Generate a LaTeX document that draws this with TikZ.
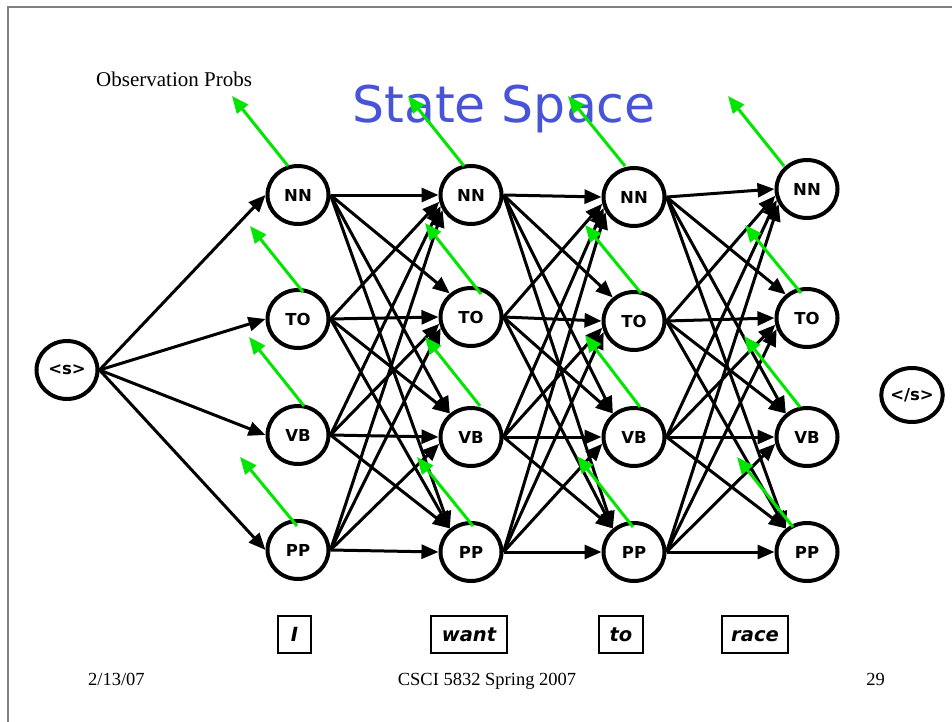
\documentclass[tikz,border=0pt]{standalone}
\usepackage{fontspec}
\setmainfont{Liberation Serif}
\newfontfamily\dvs{DejaVu Sans}[BoldFont={DejaVu Sans Bold},ItalicFont={DejaVu Sans Oblique},BoldItalicFont={DejaVu Sans Bold Oblique}]
\usetikzlibrary{shapes.geometric,arrows.meta}
\definecolor{titleblue}{RGB}{72,84,216}
\definecolor{obsgreen}{RGB}{0,230,0}
\begin{document}
\begin{tikzpicture}[x=1pt,y=-1pt,
  state/.style={ellipse,draw=black,fill=white,line width=4pt,minimum width=61pt,minimum height=58pt,inner sep=0pt,
     font=\dvs\bfseries\fontsize{16.5}{19}\selectfont},
  edge/.style={line width=3pt,-{Triangle[length=17pt,width=14pt]}},
  obs/.style={obsgreen,line width=3pt,-{Triangle[length=17pt,width=14pt]}},
  word/.style={draw=black,line width=1.3pt,minimum height=37pt,inner sep=0pt,text height=14pt,text depth=0pt,
     font=\dvs\bfseries\itshape\fontsize{19.5}{21}\selectfont},
  foot/.style={inner sep=0pt,font=\fontsize{18.5}{20}\selectfont}]
\useasboundingbox (0,0) rectangle (952,722);
\fill[white] (0,0) rectangle (952,722);
\draw[gray,line width=2pt] (8,722) -- (8,7) -- (952,7);

% title
\node[anchor=base west,inner sep=0pt,text=titleblue,font=\dvs\fontsize{50.5}{56}\selectfont] (title) at (352,123) {State Space};
\node[anchor=base west,inner sep=0pt,font=\fontsize{21}{24}\selectfont] (obslabel) at (96,87) {Observation Probs};

% states
\node[state] (s) at (67,370) {<s>};
\node[state,minimum height=54pt] (e) at (912,395) {</s>};
\foreach \c/\x/\ya/\yb/\yc/\yd in {1/298/195/319/435/550, 2/471/195/317/437/552, 3/634/197/321/437/552, 4/807/189/318/437/552} {
  \node[state] (c\c r1) at (\x,\ya) {NN};
  \node[state] (c\c r2) at (\x,\yb) {TO};
  \node[state] (c\c r3) at (\x,\yc) {VB};
  \node[state] (c\c r4) at (\x,\yd) {PP};
}

% start edges
\foreach \j in {1,...,4} \draw[edge] (s.east) -- (c1r\j.west);

% transitions
\foreach \c/\d in {1/2,2/3,3/4}
 \foreach \i in {1,...,4}
  \foreach \j in {1,...,4} {
    \pgfmathtruncatemacro\ang{\i==\j ? 180 : (\i<\j ? 132 : 184+8*(\i-\j))}
    \draw[edge] (c\c r\i.east) -- (c\d r\j.\ang);
  }

% observation arrows
\foreach \n/\sx/\sy/\tx/\ty in {
  11/288/166/232/96, 12/303/292/250/226, 13/304/406/249/337, 14/297/526/240/457,
  21/464/166/408/96, 22/481/294/425/223, 23/480/406/425/337, 24/473/526/417/457,
  31/625/166/568/96, 32/641/293/585/225, 33/640/407/585/335, 34/633/527/577/456,
  41/784/166/728/96, 42/801/293/745/225, 43/800/407/744/336, 44/793/527/737/457} {
  \coordinate (gs\n) at (\sx,\sy);
  \coordinate (gt\n) at (\tx,\ty);
  \draw[obs] (gs\n) -- (gt\n);
}

% words
\node[word,minimum width=33pt] (w1) at (294.5,634.5) {I};
\node[word,minimum width=76pt] (w2) at (469,634.5) {want};
\node[word,minimum width=44pt] (w3) at (621,634.5) {to};
\node[word,minimum width=66pt] (w4) at (755,634.5) {race};

% footer
\node[foot,anchor=base west] (date) at (88,685) {2/13/07};
\node[foot,anchor=base] (course) at (487,685) {CSCI 5832 Spring 2007};
\node[foot,anchor=base east] (page) at (885,685) {29};
\end{tikzpicture}
\end{document}
